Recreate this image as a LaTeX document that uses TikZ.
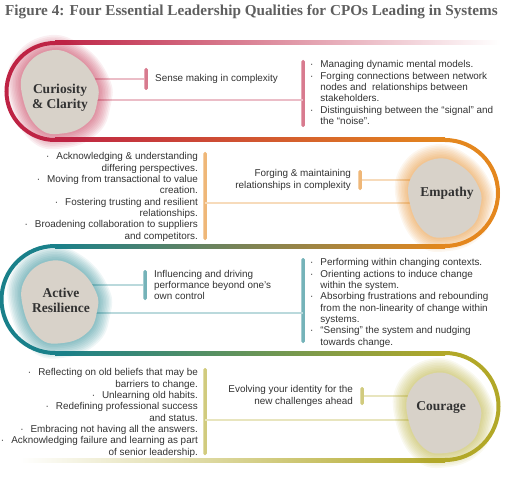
\documentclass[tikz,border=0pt]{standalone}
\usepackage{fontspec}
\setmainfont{Liberation Serif}
\setsansfont{Liberation Sans}
\usetikzlibrary{positioning}

\definecolor{crim}{RGB}{190,35,68}
\definecolor{orng}{RGB}{228,135,30}
\definecolor{teal}{RGB}{25,128,138}
\definecolor{olive}{RGB}{178,168,40}
\definecolor{beige}{RGB}{216,210,201}
\definecolor{ink}{RGB}{50,50,50}
\definecolor{ttl}{RGB}{95,95,95}

\newcommand{\bul}{\textperiodcentered\hspace{7pt}}
\newcommand{\blobpath}{plot[smooth cycle, tension=0.75] coordinates {(-10,-39) (16,-32) (34,-10) (35,10) (26,29) (3,39) (-20,34) (-35,6) (-33,-22)}}
% pebble with a soft coloured glow: centre, colour, size
\newcommand{\qualblob}[3]{%
  \foreach \s in {1.36,1.32,...,1.03}
    \fill[#2, opacity=0.07, shift={#1}, scale=#3*\s] \blobpath;
  \fill[beige, shift={#1}, scale=#3] \blobpath;}

\tikzset{
  band/.style={draw=#1, line width=4pt},
  link/.style={draw=#1!30, line width=2pt},
  vbar/.style={fill=#1, fill opacity=0.6, minimum width=3.5pt, inner sep=0pt, rounded corners=1.5pt},
  qual/.style={font=\fontsize{13.5}{15}\selectfont\bfseries, text=ink, align=center},
  body/.style={font=\sffamily\fontsize{9.9}{11.3}\selectfont, text=ink, inner sep=0pt},
  title/.style={font=\fontsize{15.2}{17}\selectfont\bfseries, text=ttl, inner sep=0pt},
}

\begin{document}
\begin{tikzpicture}[x=1pt, y=-1pt]
  \useasboundingbox (0,0) rectangle (506,500);

  \node[title, anchor=west] (title) at (5,12)
    {Figure 4: Four Essential Leadership Qualities for CPOs Leading in Systems};

  % the winding band
  \shade[left color=crim, right color=white] (55,41) rectangle (500,45);
  \draw[band=crim] (55,43) arc[start angle=-90, end angle=-270, radius=48.5];
  \shade[left color=crim, middle color={rgb,255:red,240;green,200;blue,190}, right color=orng] (55,138) rectangle (445,142);
  \draw[band=orng] (445,140) arc[start angle=-90, end angle=90, radius=53];
  \shade[left color=teal, middle color={rgb,255:red,215;green,205;blue,165}, right color=orng] (55,244) rectangle (445,248);
  \draw[band=teal] (55,246) arc[start angle=-90, end angle=-270, radius=53.5];
  \shade[left color=teal, middle color={rgb,255:red,200;green,212;blue,180}, right color=olive] (55,351) rectangle (445,355);
  \draw[band=olive] (445,353) arc[start angle=-90, end angle=90, radius=53.5];
  \shade[left color=white, right color=olive] (20,458) rectangle (445,462);

  % Curiosity & Clarity
  \coordinate (curiosity) at (60,92);
  \coordinate (curlow) at (60,100);
  \node[vbar=crim, minimum height=22pt] (cs) at (146,79) {};
  \node[vbar=crim, minimum height=67pt] (cb) at (303,93.5) {};
  \draw[link=crim] (curiosity |- cs) -- (cs);
  \draw[link=crim] (curlow) -- (curlow -| cb);
  \qualblob{(curiosity)}{crim}{1.06}
  \node[qual] (curlabel) at (60,98) {Curiosity\\\& Clarity};
  \node[body, right=7pt of cs] (csense) {Sense making in complexity};
  \node[body, anchor=north west, xshift=5pt] (clist) at (cb.north east) {%
    \begin{tabular}{@{}l@{}}
      \bul Managing dynamic mental models.\\
      \bul Forging connections between network\\
      \hphantom{\bul}nodes and\ \ relationships between\\
      \hphantom{\bul}stakeholders.\\
      \bul Distinguishing between the “signal” and\\
      \hphantom{\bul}the “noise”.
    \end{tabular}};

  % Empathy
  \coordinate (empathy) at (445,198);
  \coordinate (emplow) at (445,203);
  \node[vbar=orng, minimum height=20pt] (es) at (360,180) {};
  \node[vbar=orng, minimum height=88pt] (eb) at (205,196) {};
  \draw[link=orng] (es) -- (es -| empathy);
  \draw[link=orng] (eb |- emplow) -- (emplow);
  \qualblob{(empathy)}{orng}{1}
  \node[qual] (emplabel) at (447,193) {Empathy};
  \node[body, align=right, left=7pt of es] (eforge) {Forging \& maintaining\\relationships in complexity};
  \node[body, anchor=north east, xshift=-5pt] (elist) at (eb.north west) {%
    \begin{tabular}{@{}r@{}}
      \bul Acknowledging \& understanding\\
      differing perspectives.\\
      \bul Moving from transactional to value\\
      creation.\\
      \bul Fostering trusting and resilient\\
      relationships.\\
      \bul Broadening collaboration to suppliers\\
      and competitors.
    \end{tabular}};

  % Active Resilience
  \coordinate (active) at (60,302);
  \coordinate (actlow) at (60,313);
  \node[vbar=teal, minimum height=30pt] (as) at (145,285) {};
  \node[vbar=teal, minimum height=85pt] (ab) at (303,300.5) {};
  \draw[link=teal] (active |- as) -- (as);
  \draw[link=teal] (actlow) -- (actlow -| ab);
  \qualblob{(active)}{teal}{1.05}
  \node[qual] (actlabel) at (61,300) {Active\\Resilience};
  \node[body, align=left, right=7pt of as] (ainfl) {Influencing and driving\\performance beyond one’s\\own control};
  \node[body, anchor=north west, xshift=5pt] (alist) at (ab.north east) {%
    \begin{tabular}{@{}l@{}}
      \bul Performing within changing contexts.\\
      \bul Orienting actions to induce change\\
      \hphantom{\bul}within the system.\\
      \bul Absorbing frustrations and rebounding\\
      \hphantom{\bul}from the non-linearity of change within\\
      \hphantom{\bul}systems.\\
      \bul “Sensing” the system and nudging\\
      \hphantom{\bul}towards change.
    \end{tabular}};

  % Courage
  \coordinate (courage) at (444,413);
  \coordinate (coulow) at (444,420);
  \node[vbar=olive, minimum height=18pt] (gs) at (362,396) {};
  \node[vbar=olive, minimum height=87pt] (gb) at (205,411.5) {};
  \draw[link=olive] (gs) -- (gs -| courage);
  \draw[link=olive] (gb |- coulow) -- (coulow);
  \qualblob{(courage)}{olive}{1.02}
  \node[qual] (coulabel) at (441,408) {Courage};
  \node[body, align=right, left=7pt of gs] (gevolve) {Evolving your identity for the\\new challenges ahead};
  \node[body, anchor=north east, xshift=-5pt] (glist) at (gb.north west) {%
    \begin{tabular}{@{}r@{}}
      \bul Reflecting on old beliefs that may be\\
      barriers to change.\\
      \bul Unlearning old habits.\\
      \bul Redefining professional success\\
      and status.\\
      \bul Embracing not having all the answers.\\
      \bul Acknowledging failure and learning as part\\
      of senior leadership.
    \end{tabular}};
\end{tikzpicture}
\end{document}
